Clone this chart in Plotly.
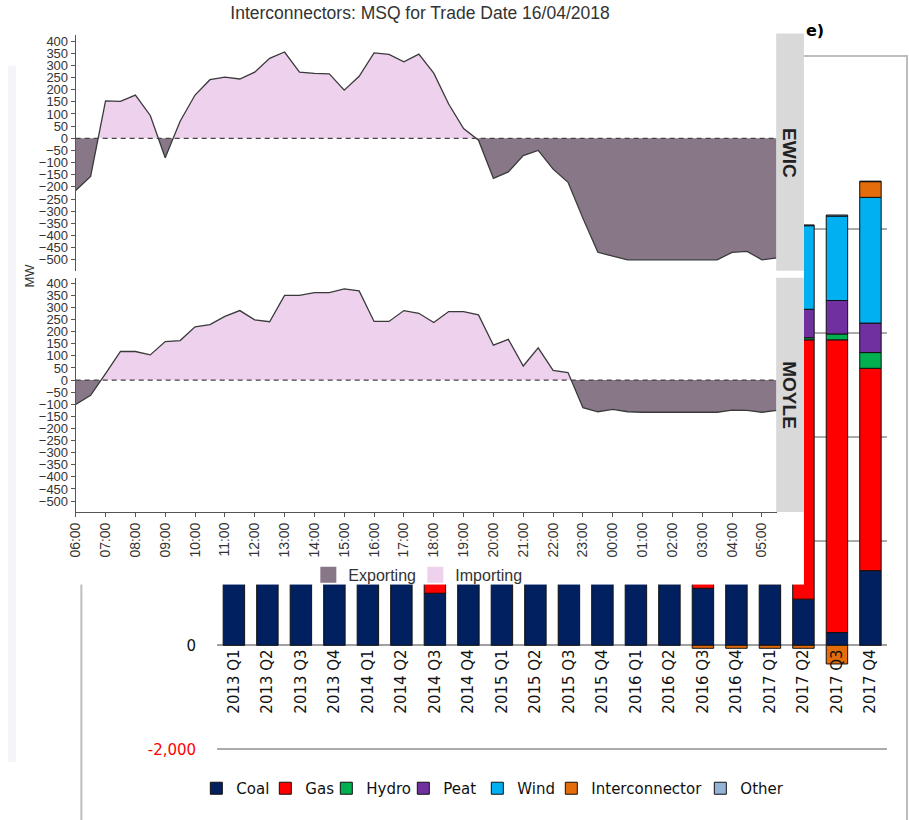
import pandas as pd
import plotly.graph_objects as go

# ---------------- Interconnector MSQ (half-hourly, MW) ----------------
times = pd.date_range("2018-04-16 06:00", periods=48, freq="30min")
ewic = [-215, -157, 154, 152, 178, 94, -80, 70, 178, 241, 252, 244, 272, 329, 355, 272,
        267, 265, 198, 255, 351, 345, 315, 346, 268, 141, 40, -8, -165, -138, -71, -50,
        -127, -181, -329, -469, -485, -500, -500, -500, -500, -500, -500, -500, -469, -465,
        -500, -492]
moyle = [-101, -63, 27, 118, 118, 104, 159, 163, 220, 229, 263, 287, 249, 241, 350, 350,
         361, 361, 377, 368, 242, 242, 287, 276, 238, 283, 283, 269, 144, 168, 58, 133,
         40, 31, -114, -131, -121, -131, -133, -133, -133, -133, -133, -133, -124, -125,
         -133, -125]
panels = ["EWIC", "MOYLE"]
flow_labels = ["Exporting", "Importing"]
title_text = "Interconnectors: MSQ for Trade Date 16/04/2018"

# ---------------- Quarterly generation by fuel (MW, stacked) ----------------
quarters = ["2013 Q1", "2013 Q2", "2013 Q3", "2013 Q4", "2014 Q1", "2014 Q2", "2014 Q3",
            "2014 Q4", "2015 Q1", "2015 Q2", "2015 Q3", "2015 Q4", "2016 Q1", "2016 Q2",
            "2016 Q3", "2016 Q4", "2017 Q1", "2017 Q2", "2017 Q3", "2017 Q4"]
coal = [1300, 1280, 1250, 1260, 1240, 1230, 1000, 1220, 1250, 1230, 1210, 1240, 1200, 1180,
        1095, 1190, 1170, 887, 245, 1434]
gas = [3300, 3200, 3400, 3500, 3300, 3200, 3600, 3500, 3400, 3500, 3600, 3700, 3800, 3900,
       4200, 4300, 4400, 4981, 5623, 3887]
hydro = [150, 100, 60, 120, 180, 80, 50, 130, 160, 90, 60, 140, 170, 80, 60, 110, 120, 40,
         113, 302]
peat = [600, 550, 580, 620, 600, 560, 590, 610, 620, 580, 590, 600, 610, 570, 580, 600, 590,
        547, 642, 566]
wind = [1000, 700, 500, 1100, 1200, 600, 500, 1300, 1300, 800, 700, 1500, 1400, 900, 800,
        1600, 1700, 1605, 1622, 2415]
interconnector = [300, 250, 200, 150, 200, 250, 300, 100, 150, 200, 100, 50, 100, 50, -57,
                  -57, -57, -57, -358, 302]
other = [20, 20, 20, 20, 20, 20, 20, 20, 20, 20, 20, 20, 20, 20, 20, 20, 20, 15, 20, 10]
fuel_names = ["Coal", "Gas", "Hydro", "Peat", "Wind", "Interconnector", "Other"]
fuel_values = [coal, gas, hydro, peat, wind, interconnector, other]
fuel_colors = ["#002060", "#FF0000", "#00B050", "#7030A0", "#00B0F0", "#E46C0A", "#95B3D7"]
bar_ticks = [-2000, 0, 2000, 4000, 6000, 8000, 10000]
bar_ticktext = ["<span style='color:#FF0000'>-2,000</span>", "0", "2,000", "4,000",
                "6,000", "8,000", "10,000"]

W, H = 909, 820


def fx(p):
    return p / W


def fy(p):
    return 1 - p / H


EXP_COL = "#877787"
IMP_COL = "#EDD1ED"
LINE_COL = "#3A3A3A"
AX_COL = "#555555"
TXT_COL = "#333333"
ARIAL = "Liberation Sans, Arial, sans-serif"
VERD = "DejaVu Sans, Verdana, sans-serif"
# legend entry widths (px) used to tighten horizontal legend spacing
fuel_entry_w = [24, 16, 32, 29, 29, 104, 50]
flow_entry_w = [62, 75]


def split_sign(xs, ys):
    """Split a series into positive / negative parts for sign-coloured fills."""
    px_, py_, nx_, ny_ = [], [], [], []
    for i in range(len(ys)):
        if i > 0 and ((ys[i - 1] < 0 < ys[i]) or (ys[i - 1] > 0 > ys[i])):
            frac = ys[i - 1] / (ys[i - 1] - ys[i])
            xc = xs[i - 1] + (xs[i] - xs[i - 1]) * frac
            px_.append(xc); py_.append(0)
            nx_.append(xc); ny_.append(0)
        px_.append(xs[i]); py_.append(max(ys[i], 0))
        nx_.append(xs[i]); ny_.append(min(ys[i], 0))
    return px_, py_, nx_, ny_


fig = go.Figure()

# --- background stacked bar chart (subplot xy) ---
for name, vals, col, ew in zip(fuel_names, fuel_values, fuel_colors, fuel_entry_w):
    fig.add_trace(go.Bar(x=quarters, y=vals, name=name, legendwidth=ew,
                         marker=dict(color=col, line=dict(color="#111111", width=1)),
                         xaxis="x", yaxis="y", legend="legend2", hoverinfo="skip"))

# --- white cover panel of the overlaid screenshot (subplot x2y2) ---
fig.add_trace(go.Scatter(x=[0, 1], y=[0, 1], mode="none", showlegend=False,
                         hoverinfo="skip", xaxis="x2", yaxis="y2"))

# --- interconnector panels ---
xs = list(times)
for series, ax in ((ewic, "3"), (moyle, "4")):
    px_, py_, nx_, ny_ = split_sign(xs, series)
    fig.add_trace(go.Scatter(x=nx_, y=ny_, mode="lines", fill="tozeroy",
                             fillcolor=EXP_COL, line=dict(width=0), showlegend=False,
                             hoverinfo="skip", xaxis="x" + ax, yaxis="y" + ax))
    fig.add_trace(go.Scatter(x=px_, y=py_, mode="lines", fill="tozeroy",
                             fillcolor=IMP_COL, line=dict(width=0), showlegend=False,
                             hoverinfo="skip", xaxis="x" + ax, yaxis="y" + ax))
    fig.add_trace(go.Scatter(x=xs, y=series, mode="lines",
                             line=dict(color=LINE_COL, width=1.3), showlegend=False,
                             hoverinfo="skip", xaxis="x" + ax, yaxis="y" + ax))

# legend entries for Exporting / Importing
for name, col, ew in zip(flow_labels, [EXP_COL, IMP_COL], flow_entry_w):
    fig.add_trace(go.Scatter(x=[None], y=[None], mode="markers", name=name,
                             legendwidth=ew,
                             marker=dict(symbol="square", size=16, color=col),
                             xaxis="x4", yaxis="y4", legend="legend"))

ic_yaxis = dict(range=[-545, 423], tick0=0, dtick=50, ticks="outside", ticklen=4,
                tickcolor=AX_COL, showline=True, linecolor=AX_COL, linewidth=1,
                showgrid=False, zeroline=False, tickfont=dict(family=ARIAL, size=13,
                color=TXT_COL), fixedrange=True)
x_dom = [fx(68.3), fx(775.7)]

fig.update_layout(
    width=W, height=H, autosize=False,
    margin=dict(l=0, r=0, t=0, b=0, pad=0),
    paper_bgcolor="white", plot_bgcolor="white",
    barmode="relative", bargap=0.36, hovermode=False,
    title=dict(text=title_text, x=fx(420), y=fy(13), xanchor="center", yanchor="middle",
               font=dict(family=ARIAL, size=17.5, color=TXT_COL)),
    xaxis=dict(domain=[fx(211), fx(887)], anchor="free", position=fy(649),
               type="category", tickangle=-90, showgrid=False, showline=False,
               ticks="", tickfont=dict(family=VERD, size=15, color="#111111")),
    yaxis=dict(domain=[fy(757.3), fy(118)], range=[-2040, 10000], anchor="x",
               tickmode="array", tickvals=bar_ticks, ticktext=bar_ticktext,
               showgrid=True, gridcolor="#ABABAB", gridwidth=1.5,
               zeroline=True, zerolinecolor="#A0A0A0", zerolinewidth=2,
               showline=False, ticks="", ticklabelstandoff=20,
               tickfont=dict(family=VERD, size=15, color="#111111")),
    xaxis2=dict(domain=[fx(8), fx(803)], anchor="y2", range=[0, 1], visible=False),
    yaxis2=dict(domain=[fy(587), 1.0], anchor="x2", range=[0, 1], visible=False),
    xaxis3=dict(domain=x_dom, anchor="y3", matches="x4", type="date",
                range=[times[0], times[-1]], showticklabels=False, showline=False,
                ticks="", showgrid=False, zeroline=False),
    yaxis3=dict(domain=[fy(267), fy(27)], anchor="x3", **ic_yaxis),
    xaxis4=dict(domain=x_dom, anchor="y4", type="date",
                range=[times[0], times[-1]], tick0=times[0], dtick=3600000,
                tickformat="%H:%M", tickangle=-90, ticks="outside", ticklen=4,
                tickcolor=AX_COL, showline=True, linecolor=AX_COL, linewidth=1,
                showgrid=False, zeroline=False,
                tickfont=dict(family=ARIAL, size=14, color=TXT_COL)),
    yaxis4=dict(domain=[fy(513), fy(274)], anchor="x4", **ic_yaxis),
    legend=dict(orientation="h", x=fx(323 - 20), xanchor="left", y=fy(577),
                yanchor="middle", font=dict(family=ARIAL, size=16, color=TXT_COL),
                bgcolor="rgba(0,0,0,0)"),
    legend2=dict(orientation="h", x=fx(210 - 20), xanchor="left", y=fy(795),
                 yanchor="middle", traceorder="normal",
                 font=dict(family=VERD, size=15, color="#111111"),
                 bgcolor="rgba(0,0,0,0)"),
)

shapes = [
    # light page strip at far left
    dict(type="rect", xref="paper", yref="paper", x0=0, x1=fx(8), y0=fy(768), y1=fy(58),
         fillcolor="#F3F5F8", line=dict(width=0), layer="below"),
    # bar chart frame
    dict(type="rect", xref="paper", yref="paper", x0=fx(74), x1=fx(907), y0=fy(840),
         y1=fy(48), fillcolor="rgba(0,0,0,0)", line=dict(color="#BDBDBD", width=2),
         layer="below"),
    # facet strips
    dict(type="rect", xref="paper", yref="paper", x0=fx(775), x1=fx(803), y0=fy(267),
         y1=fy(25), fillcolor="#D9D9D9", line=dict(width=0), layer="above"),
    dict(type="rect", xref="paper", yref="paper", x0=fx(775), x1=fx(803), y0=fy(513),
         y1=fy(274), fillcolor="#D9D9D9", line=dict(width=0), layer="above"),
]
for ax in ("3", "4"):
    shapes.append(dict(type="line", xref="x" + ax + " domain", yref="y" + ax, x0=0, x1=1,
                       y0=0, y1=0, line=dict(color="#444444", width=1.2, dash="5px,4px"),
                       layer="above"))
fig.update_layout(shapes=shapes)

annotations = [
    dict(text=panels[0], x=fx(789), y=fy(147), textangle=90, showarrow=False,
         xanchor="center", yanchor="middle",
         xref="paper", yref="paper", font=dict(family=ARIAL, size=19, color="#222222",
         weight="bold")),
    dict(text=panels[1], x=fx(789), y=fy(394), textangle=90, showarrow=False,
         xanchor="center", yanchor="middle",
         xref="paper", yref="paper", font=dict(family=ARIAL, size=19, color="#222222",
         weight="bold")),
    dict(text="MW", x=fx(22), y=fy(272), textangle=-90, showarrow=False,
         xanchor="center", yanchor="middle",
         xref="paper", yref="paper", font=dict(family=ARIAL, size=13, color=TXT_COL)),
    dict(text="e)", x=fx(803), y=fy(22), xanchor="left", yanchor="middle",
         showarrow=False, xref="paper", yref="paper",
         font=dict(family=VERD, size=16, color="#000000", weight="bold")),
]
fig.update_layout(annotations=annotations)

# The figure fills the whole 909x820 window: drop the page's default body margin.
fig.write_html(
    "out.html",
    config={"displayModeBar": False},
    post_script="document.body.style.margin='0';document.body.style.overflow='hidden';",
)
